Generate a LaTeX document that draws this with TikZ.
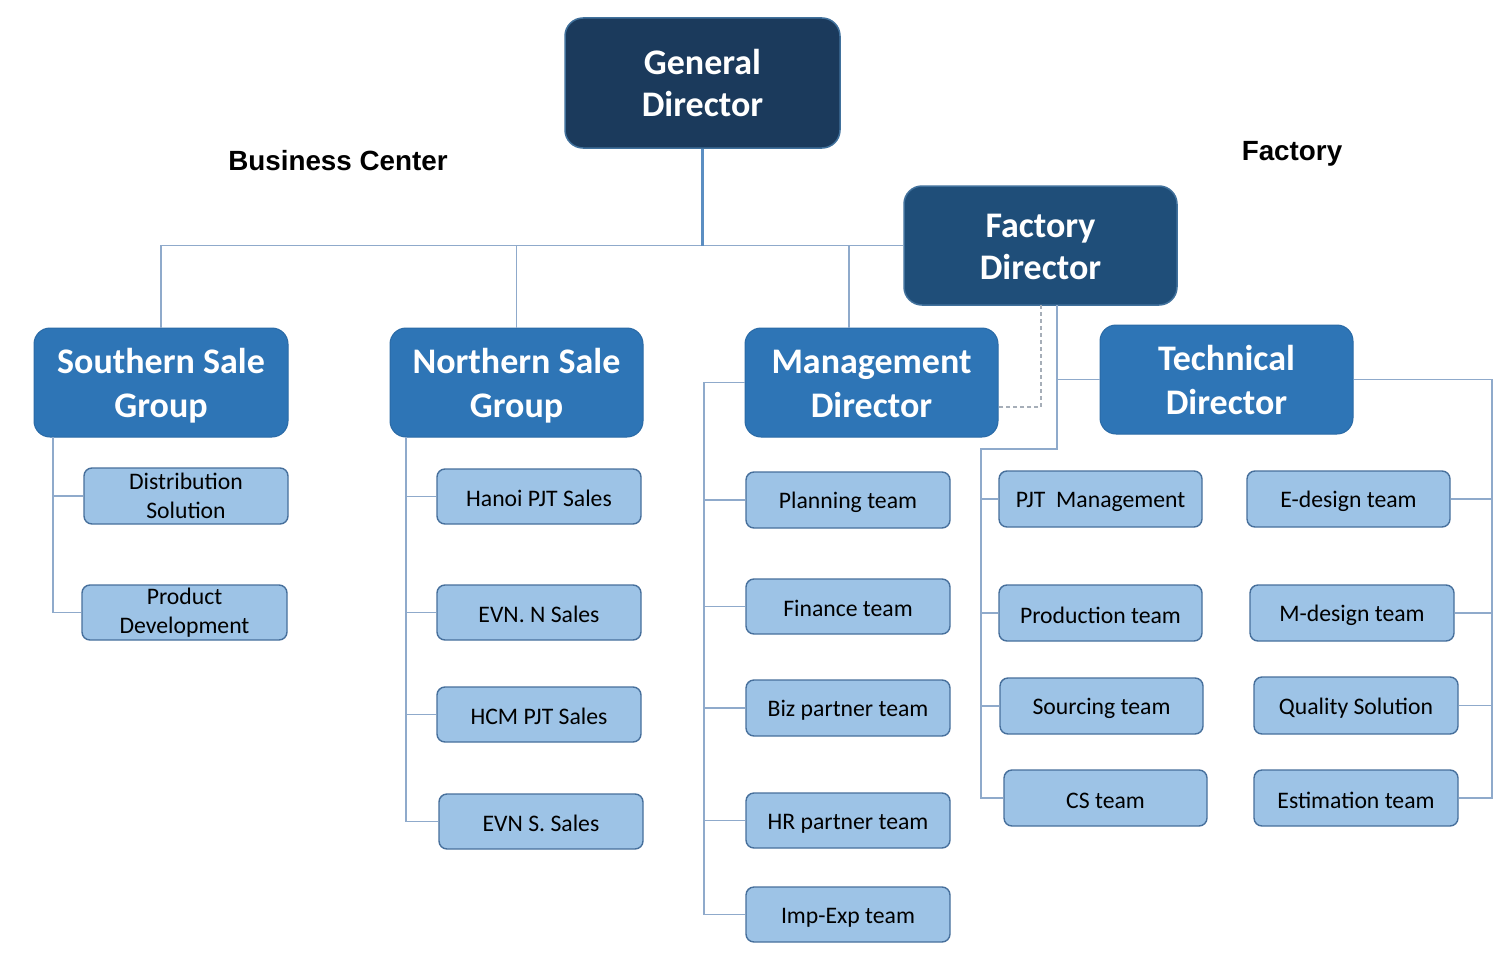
\documentclass[tikz,border=0pt]{standalone}
\usepackage{fontspec}
\setmainfont{Carlito}
\newfontfamily\labfont{Liberation Sans}
\usetikzlibrary{calc}
\definecolor{gdfill}{HTML}{1B3A5C}
\definecolor{fdfill}{HTML}{1F4E79}
\definecolor{bigdraw}{HTML}{41719C}
\definecolor{midfill}{HTML}{2E75B6}
\definecolor{middraw}{HTML}{2A6AA6}
\definecolor{kidfill}{HTML}{9DC3E6}
\definecolor{kiddraw}{HTML}{47709C}
\definecolor{conncol}{HTML}{8FAACB}
\definecolor{trunkcol}{HTML}{5B8EC2}
\definecolor{dashcol}{HTML}{A6AEB8}
\tikzset{
  bigbox/.style={rounded corners=18pt, draw=bigdraw, line width=1.5pt, text=white, align=center,
    font=\fontsize{36}{42}\selectfont\bfseries, inner sep=0pt,
    text height=67.5pt, text depth=0pt},
  midbox/.style={rounded corners=16pt, fill=midfill, draw=middraw, line width=1pt, text=white, align=center,
    font=\fontsize{36}{44}\selectfont\bfseries, inner sep=0pt,
    text height=70pt, text depth=0pt},
  kidbox/.style={rounded corners=8pt, fill=kidfill, draw=kiddraw, line width=1.4pt, text=black, align=center,
    font=\fontsize{23.7}{29}\selectfont, inner sep=0pt, minimum width=204pt, minimum height=56pt,
    execute at begin node={\rule{0pt}{21pt}}},
  conn/.style={draw=conncol, line width=1.2pt},
  trunk/.style={draw=trunkcol, line width=2.6pt},
  dashc/.style={draw=dashcol, line width=1.2pt, dash pattern=on 4pt off 3pt},
  grouplabel/.style={font=\labfont\bfseries\fontsize{27.8}{32}\selectfont, text=black, inner sep=0pt}
}
\begin{document}
\begin{tikzpicture}[x=1pt,y=-1pt]
\useasboundingbox[fill=white] (0,0) rectangle (1509,955);

% top level
\node[bigbox, fill=gdfill, minimum width=275pt, minimum height=130pt] (gd) at (702.5,83) {General\\Director};
\node[bigbox, fill=fdfill, minimum width=273pt, minimum height=119pt] (fd) at (1040.5,245.5) {Factory\\Director};

\node[grouplabel] (bc) at (338,161) {Business Center};
\node[grouplabel] (fl) at (1292,153.5) {Factory};

% second level
\node[midbox, minimum width=254pt, minimum height=109pt] (ss) at (161,382.5) {Southern Sale\\Group};
\node[midbox, minimum width=253pt, minimum height=109pt] (ns) at (516.5,382.5) {Northern Sale\\Group};
\node[midbox, minimum width=253pt, minimum height=109pt] (md) at (871.5,382.5) {Management\\Director};
\node[midbox, minimum width=253pt, minimum height=109pt] (td) at (1226.5,379.5) {Technical\\Director};

% children
\node[kidbox] (dist) at (186,496) {Distribution\\Solution};
\node[kidbox, minimum width=205pt, minimum height=55pt] (prod) at (184.5,612.5) {Product\\Development};

\node[kidbox, minimum height=55pt] (hanoi) at (539,496.5) {Hanoi PJT Sales};
\node[kidbox, minimum height=55pt] (evnn) at (539,612.5) {EVN. N Sales};
\node[kidbox, minimum height=55pt] (hcm) at (539,714.5) {HCM PJT Sales};
\node[kidbox, minimum height=55pt] (evns) at (541,821.5) {EVN S. Sales};

\node[kidbox] (plan) at (848,500) {Planning team};
\node[kidbox, minimum height=55pt] (fin) at (848,606.5) {Finance team};
\node[kidbox] (biz) at (848,708) {Biz partner team};
\node[kidbox, minimum height=55pt] (hr) at (848,820.5) {HR partner team};
\node[kidbox, minimum height=55pt] (imp) at (848,914.5) {Imp-Exp team};

\node[kidbox, minimum width=203pt] (pjt) at (1100.5,499) {PJT\ \ Management};
\node[kidbox, minimum width=203pt] (prodt) at (1100.5,613) {Production team};
\node[kidbox, minimum width=203pt] (src) at (1101.5,706) {Sourcing team};
\node[kidbox, minimum width=203pt] (cs) at (1105.5,798) {CS team};

\node[kidbox, minimum width=203pt] (ed) at (1348.5,499) {E-design team};
\node[kidbox] (mdt) at (1352,613) {M-design team};
\node[kidbox, minimum height=57pt] (qs) at (1356,705.5) {Quality Solution};
\node[kidbox] (est) at (1356,798) {Estimation team};

% coordinates for junctions
\coordinate (mdtop) at (849,328);
\coordinate (sv) at (53,437);
\coordinate (nv) at (406,437);
\coordinate (mv) at (704,382.5);
\coordinate (fdo) at (1057,305);
\coordinate (fdd) at (1041,305);
\coordinate (fk) at (1057,449);
\coordinate (fv) at (981,449);
\coordinate (rv) at (1492,380);

% connectors: top bar
\draw[conn] (ss.north) |- (fd.west);
\draw[conn] (ns.north) -- (ns.north |- fd.west);
\draw[conn] (mdtop) -- (mdtop |- fd.west);
\draw[trunk] (gd.south) -- (gd.south |- fd.west);

% factory director links
\draw[dashc] (fdd) -- (fdd |- 0,407) -- (md.east |- 0,407);
\draw[conn] (fdo) -- (fk) -- (fv) |- (cs.west);
\draw[conn] (fdo |- td.west) -- (td.west);
\draw[conn] (fv |- pjt.west) -- (pjt.west);
\draw[conn] (fv |- prodt.west) -- (prodt.west);
\draw[conn] (fv |- src.west) -- (src.west);

% technical right side
\draw[conn] (td.east) -- (td.east -| rv) |- (est.east);
\draw[conn] (ed.east) -- (ed.east -| rv);
\draw[conn] (mdt.east) -- (mdt.east -| rv);
\draw[conn] (qs.east) -- (qs.east -| rv);

% southern
\draw[conn] (sv) |- (prod.west);
\draw[conn] (sv |- dist.west) -- (dist.west);

% northern
\draw[conn] (nv) |- (evns.west);
\draw[conn] (nv |- hanoi.west) -- (hanoi.west);
\draw[conn] (nv |- evnn.west) -- (evnn.west);
\draw[conn] (nv |- hcm.west) -- (hcm.west);

% management
\draw[conn] (md.west) -- (mv) |- (imp.west);
\draw[conn] (mv |- plan.west) -- (plan.west);
\draw[conn] (mv |- fin.west) -- (fin.west);
\draw[conn] (mv |- biz.west) -- (biz.west);
\draw[conn] (mv |- hr.west) -- (hr.west);
\end{tikzpicture}
\end{document}
